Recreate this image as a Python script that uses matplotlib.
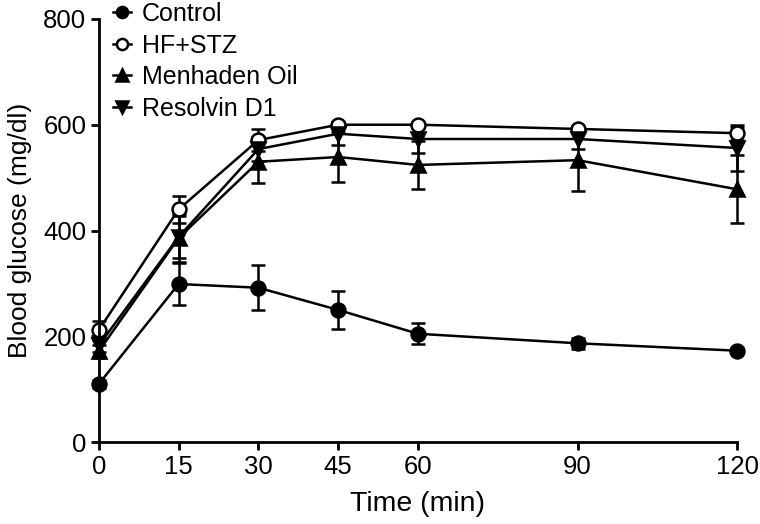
import numpy as np
import matplotlib.pyplot as plt

plt.rcParams['font.family'] = ['Liberation Sans', 'DejaVu Sans']

# time points (min)
t = [0, 15, 30, 45, 60, 90, 120]

# blood glucose (mg/dl), mean and error
control = [110, 299, 292, 250, 205, 187, 173]
control_err = [8, 40, 43, 36, 20, 10, 5]
hfstz = [212, 440, 571, 600, 600, 592, 584]
hfstz_err = [18, 25, 20, 6, 6, 6, 12]
menhaden = [172, 386, 530, 539, 524, 533, 478]
menhaden_err = [12, 45, 40, 48, 46, 59, 64]
resolvin = [183, 388, 554, 583, 573, 573, 556]
resolvin_err = [12, 40, 22, 22, 27, 19, 44]

labels = ["Control", "HF+STZ", "Menhaden Oil", "Resolvin D1"]

fig = plt.figure(figsize=(7.6, 5.24), dpi=100)
ax = fig.add_axes([0.130, 0.156, 0.840, 0.808])

kw = dict(color='black', lw=1.8, ms=10, capsize=5, elinewidth=1.8,
          capthick=1.8, mew=1.8, clip_on=False)
ax.errorbar(t, control, yerr=control_err, fmt='-o', mfc='black', label=labels[0], **kw)
ax.errorbar(t, hfstz, yerr=hfstz_err, fmt='-o', mfc='white', label=labels[1], **kw)
ax.errorbar(t, menhaden, yerr=menhaden_err, fmt='-^', mfc='black', label=labels[2], **kw)
ax.errorbar(t, resolvin, yerr=resolvin_err, fmt='-v', mfc='black', label=labels[3], **kw)

ax.set_xlim(0, 120)
ax.set_ylim(0, 800)
ax.set_xticks(t)
ax.set_yticks([0, 200, 400, 600, 800])
for s in ['top', 'right']:
    ax.spines[s].set_visible(False)
for s in ['left', 'bottom']:
    ax.spines[s].set_linewidth(2)
ax.tick_params(width=2, length=6, labelsize=18.5, pad=3)
ax.set_xlabel("Time (min)", fontsize=20.5, labelpad=9)
ax.set_ylabel("Blood glucose (mg/dl)", fontsize=19, labelpad=8)

handles, lbls = ax.get_legend_handles_labels()
handles = [h[0] for h in handles]
leg = fig.legend(handles, lbls, loc='upper left', bbox_to_anchor=(0.136, 1.015),
                 frameon=False, fontsize=18, handlelength=0.7, handletextpad=0.45,
                 labelspacing=0.3, borderaxespad=0)
for h in leg.legend_handles:
    h.set_markersize(8)

fig.savefig("out.png", dpi=100)
